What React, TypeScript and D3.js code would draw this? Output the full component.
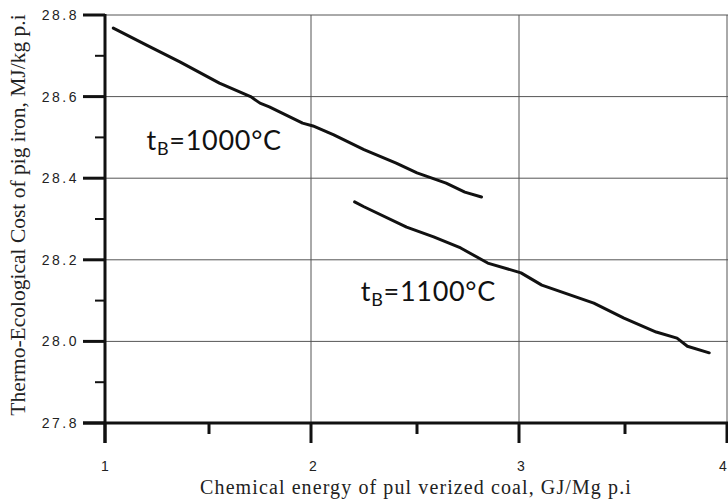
import React, { useEffect, useRef } from 'react';
import * as d3 from 'd3';

// series
const x1000 = [1.04, 1.2, 1.36, 1.55, 1.7, 1.745, 1.79, 1.95, 2.0, 2.1, 2.245, 2.4, 2.5, 2.64, 2.73, 2.81];
const y1000 = [28.768, 28.726, 28.685, 28.633, 28.6, 28.584, 28.575, 28.535, 28.528, 28.506, 28.47, 28.437, 28.413, 28.388, 28.366, 28.354];

const x1100 = [2.2, 2.245, 2.45, 2.58, 2.71, 2.84, 3.0, 3.1, 3.35, 3.495, 3.65, 3.75, 3.8, 3.905];
const y1100 = [28.342, 28.33, 28.28, 28.256, 28.229, 28.192, 28.168, 28.138, 28.094, 28.057, 28.023, 28.008, 27.988, 27.972];

const xTicks = [1, 2, 3, 4];
const xMinor = [1.5, 2.5, 3.5];
const yTicks = [27.8, 28.0, 28.2, 28.4, 28.6, 28.8];
const yMinor = [27.9, 28.1, 28.3, 28.5, 28.7];

const labels = [
  { main: 't', sub: 'B', rest: '=1000°C', x: 1.2, y: 28.47 },
  { main: 't', sub: 'B', rest: '=1100°C', x: 2.23, y: 28.1 },
];

const width = 728;
const height = 501;

const App = () => {
  const svgRef = useRef<SVGSVGElement>(null);

  useEffect(() => {
    const svg = d3.select(svgRef.current);
    svg.selectAll('*').remove();

    const x = d3.scaleLinear().domain([1, 4]).range([105, 729]);
    const y = d3.scaleLinear().domain([27.8, 28.8]).range([423, 15]);

    // grid
    const grid = svg.append('g').attr('stroke', '#555').attr('stroke-width', 1);
    yTicks.filter(v => v > 27.8).forEach(v => {
      grid.append('line').attr('x1', 83).attr('x2', width).attr('y1', y(v)).attr('y2', y(v));
    });
    xTicks.filter(v => v > 1).forEach(v => {
      grid.append('line').attr('x1', x(v) - 2).attr('x2', x(v) - 2).attr('y1', y(28.8)).attr('y2', 443);
    });

    // axes
    const ax = svg.append('g').attr('stroke', '#111');
    ax.append('line').attr('x1', x(1)).attr('x2', x(1)).attr('y1', y(28.8) - 1).attr('y2', 443).attr('stroke-width', 3);
    ax.append('line').attr('x1', 83).attr('x2', width).attr('y1', y(27.8)).attr('y2', y(27.8)).attr('stroke-width', 3);

    yTicks.forEach(v => {
      ax.append('line').attr('x1', 83).attr('x2', x(1)).attr('y1', y(v)).attr('y2', y(v)).attr('stroke-width', 3);
    });
    yMinor.forEach(v => {
      ax.append('line').attr('x1', 95).attr('x2', x(1)).attr('y1', y(v)).attr('y2', y(v)).attr('stroke-width', 2);
    });
    xTicks.forEach(v => {
      const px = v === 1 ? x(v) : x(v) - 2;
      ax.append('line').attr('x1', px).attr('x2', px).attr('y1', y(27.8)).attr('y2', 443).attr('stroke-width', 3);
    });
    xMinor.forEach(v => {
      ax.append('line').attr('x1', x(v)).attr('x2', x(v)).attr('y1', y(27.8)).attr('y2', 434).attr('stroke-width', 3);
    });

    // tick labels
    svg.append('g')
      .selectAll('text')
      .data(yTicks)
      .join('text')
      .attr('x', 79)
      .attr('y', d => y(d) + 5)
      .attr('text-anchor', 'end')
      .attr('font-family', 'Liberation Sans, Arial, sans-serif')
      .attr('font-size', 14)
      .attr('letter-spacing', 2.5)
      .attr('fill', '#222')
      .text(d => d.toFixed(1));

    svg.append('g')
      .selectAll('text')
      .data(xTicks)
      .join('text')
      .attr('x', d => Math.min(x(d), 723))
      .attr('y', 471)
      .attr('text-anchor', 'middle')
      .attr('font-family', 'Liberation Sans, Arial, sans-serif')
      .attr('font-size', 14)
      .attr('fill', '#222')
      .text(d => d);

    // axis titles
    svg.append('text')
      .attr('transform', `translate(25,${215}) rotate(-90)`)
      .attr('text-anchor', 'middle')
      .attr('font-family', 'Liberation Serif, Times New Roman, serif')
      .attr('font-size', 21.5)
      .attr('fill', '#222')
      .text('Thermo-Ecological Cost of pig iron, MJ/kg p.i');

    svg.append('text')
      .attr('x', 416)
      .attr('y', 494)
      .attr('text-anchor', 'middle')
      .attr('font-family', 'Liberation Serif, Times New Roman, serif')
      .attr('font-size', 20)
      .attr('letter-spacing', 1.1)
      .attr('fill', '#222')
      .text('Chemical energy of pul verized coal, GJ/Mg p.i');

    // curves
    const line = d3.line<[number, number]>()
      .x(d => x(d[0]))
      .y(d => y(d[1]));

    [
      d3.zip(x1000, y1000) as [number, number][],
      d3.zip(x1100, y1100) as [number, number][],
    ].forEach(data => {
      svg.append('path')
        .datum(data)
        .attr('fill', 'none')
        .attr('stroke', '#111')
        .attr('stroke-width', 3)
        .attr('stroke-linejoin', 'round')
        .attr('stroke-linecap', 'round')
        .attr('d', line);
    });

    // annotations
    labels.forEach(l => {
      const t = svg.append('text')
        .attr('x', x(l.x))
        .attr('y', y(l.y))
        .attr('font-family', 'Lato, Open Sans, sans-serif')
        .attr('font-size', 27)
        .attr('letter-spacing', 0.7)
        .attr('fill', '#111');
      t.append('tspan').text(l.main);
      t.append('tspan').attr('font-size', 18).attr('dy', 5).text(l.sub);
      t.append('tspan').attr('dy', -5).text(l.rest);
    });
  }, []);

  return (
    <svg
      ref={svgRef}
      width={width}
      height={height}
      style={{ position: 'absolute', left: 0, top: 0, background: '#fff' }}
    />
  );
};

export default App;
